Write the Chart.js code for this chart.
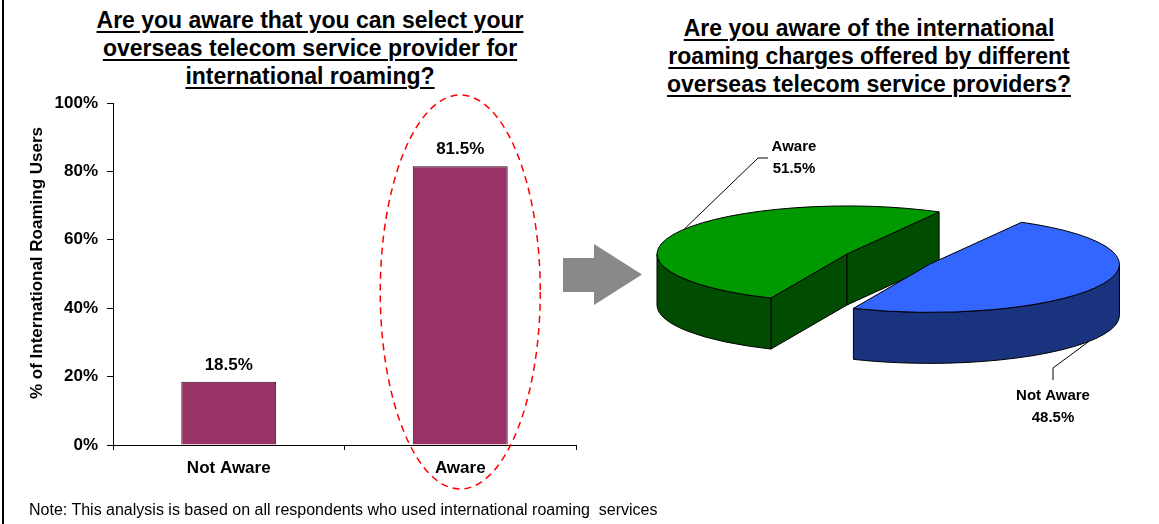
<!DOCTYPE html>
<html>
<head>
<meta charset="utf-8">
<script src="https://cdn.jsdelivr.net/npm/chart.js@4.4.1/dist/chart.umd.min.js"></script>
<style>
  html, body { margin: 0; padding: 0; background: #fff; }
  body { width: 1159px; height: 524px; position: relative; overflow: hidden;
         font-family: "Liberation Sans", Arial, sans-serif; color: #000; }
  .frame { position: absolute; left: 2px; top: 0; width: 2px; height: 524px; background: #000; }
  .title { position: absolute; width: 520px; font-weight: bold; font-size: 23px; line-height: 28px;
           text-align: center; text-decoration: underline; text-decoration-thickness: 2px;
           text-underline-offset: 3px; white-space: nowrap; }
  #barTitle { left: 50px; top: 6px; }
  #pieTitle { left: 609px; top: 14px; }
  #yTitle { position: absolute; left: 37px; top: 263px; width: 320px; margin-left: -160px; margin-top: -10px;
            height: 20px; line-height: 20px; text-align: center; font-weight: bold; font-size: 17px;
            transform: rotate(-90deg); white-space: nowrap; }
  .note { position: absolute; left: 29px; top: 502px; font-size: 16px; line-height: 16px; white-space: pre; }
  #barChart { position: absolute; left: 0; top: 0; }
  #pieChart { position: absolute; left: 560px; top: 100px; }
  #arrow { position: absolute; left: 560px; top: 240px; }
</style>
</head>
<body>
<div class="frame"></div>
<div class="title" id="barTitle">Are you aware that you can select your<br>overseas telecom service provider for<br>international roaming?</div>
<div class="title" id="pieTitle">Are you aware of the international<br>roaming charges offered by different<br>overseas telecom service providers?</div>
<canvas id="barChart" width="600" height="524"></canvas>
<div id="yTitle"></div>
<svg id="arrow" width="90" height="70">
  <polygon points="3,18 34,18 34,4 82,34.5 34,65 34,52 3,52" fill="#898989"/>
</svg>
<canvas id="pieChart" width="599" height="340"></canvas>
<div class="note">Note: This analysis is based on all respondents who used international roaming  services</div>

<script>
// survey answers, % of international roaming users
const categories = ['Not Aware', 'Aware'];
const canSelectProvider = [18.5, 81.5];
const knowsRoamingCharges = [48.5, 51.5];
const yTickValues = [0, 20, 40, 60, 80, 100];
const yTitle = '% of International Roaming Users';

document.getElementById('yTitle').textContent = yTitle;

Chart.defaults.font.family = "'Liberation Sans', Arial, sans-serif";
Chart.defaults.color = '#000';

// value labels above the bars
const barValues = {
  id: 'barValues',
  afterDatasetsDraw(chart) {
    const ctx = chart.ctx;
    const meta = chart.getDatasetMeta(0);
    ctx.save();
    ctx.font = "bold 17px 'Liberation Sans', Arial, sans-serif";
    ctx.fillStyle = '#000';
    ctx.textAlign = 'center';
    ctx.textBaseline = 'alphabetic';
    meta.data.forEach((bar, i) => {
      ctx.fillText(chart.data.datasets[0].data[i].toFixed(1) + '%', bar.x, bar.y - 12);
    });
    ctx.restore();
  }
};

// dashed ring around the highlighted bar
const highlight = {
  id: 'highlight',
  afterDraw(chart, args, opts) {
    const bar = chart.getDatasetMeta(0).data[opts.index];
    const ctx = chart.ctx;
    ctx.save();
    ctx.strokeStyle = '#ff0000';
    ctx.lineWidth = 1.5;
    ctx.setLineDash([7, 5]);
    ctx.beginPath();
    ctx.ellipse(bar.x, opts.cy, opts.rx, opts.ry, 0, 0, Math.PI * 2);
    ctx.stroke();
    ctx.restore();
  }
};

new Chart(document.getElementById('barChart'), {
  type: 'bar',
  data: {
    labels: categories,
    datasets: [{
      data: canSelectProvider,
      backgroundColor: '#993366',
      borderColor: '#2a1020',
      borderWidth: 1,
      barPercentage: 0.41,
      categoryPercentage: 1
    }]
  },
  options: {
    responsive: false,
    animation: false,
    events: [],
    layout: { padding: { left: 0, top: 103, right: 24, bottom: 0 } },
    scales: {
      x: {
        afterFit: s => { s.height = 79; },
        grid: { display: true, drawOnChartArea: false, offset: true, tickLength: 5, color: '#000' },
        border: { color: '#000' },
        ticks: { font: { size: 17, weight: 'bold' }, padding: 8 }
      },
      y: {
        min: 0,
        max: 100,
        afterBuildTicks: s => { s.ticks = yTickValues.map(v => ({ value: v })); },
        afterFit: s => { s.width = 113; },
        grid: { drawOnChartArea: false, tickLength: 6, color: '#000' },
        border: { color: '#000' },
        ticks: { font: { size: 17, weight: 'bold' }, padding: 9, callback: v => v + '%' }
      }
    },
    plugins: {
      legend: { display: false },
      tooltip: { enabled: false },
      highlight: { index: 1, cy: 292, rx: 80, ry: 197 }
    }
  },
  plugins: [barValues, highlight]
});

// extruded pie: side walls and squashed tops drawn from the arc elements
const pie3d = {
  id: 'pie3d',
  beforeDatasetsDraw(chart, args, opts) {
    const ctx = chart.ctx;
    const t = opts.tilt, depth = opts.depth;
    const slices = chart.getDatasetMeta(0).data.map((arc, i) => {
      const p = arc.getProps(['x', 'y', 'startAngle', 'endAngle', 'outerRadius']);
      const mid = (p.startAngle + p.endAngle) / 2;
      const d = opts.explode[i] || 0;
      return { arc, i, p, r: p.outerRadius, s: p.startAngle, e: p.endAngle,
               cx: p.x + Math.cos(mid) * d, cy: p.y + Math.sin(mid) * d * t };
    });
    slices.sort((a, b) => a.cy - b.cy);
    ctx.save();
    ctx.lineWidth = 1;
    ctx.lineJoin = 'round';
    ctx.strokeStyle = opts.edgeColor;
    slices.forEach(sl => {
      ctx.fillStyle = opts.sideColors[sl.i];
      // cut faces that turn towards the viewer
      [[sl.s, Math.cos(sl.s) < 0], [sl.e, Math.cos(sl.e) > 0]].forEach(([a, show]) => {
        if (!show) return;
        const x = sl.cx + sl.r * Math.cos(a), y = sl.cy + sl.r * t * Math.sin(a);
        ctx.beginPath();
        ctx.moveTo(sl.cx, sl.cy);
        ctx.lineTo(x, y);
        ctx.lineTo(x, y + depth);
        ctx.lineTo(sl.cx, sl.cy + depth);
        ctx.closePath();
        ctx.fill();
        ctx.stroke();
      });
      // front part of the rim
      for (let k = -1; k <= 2; k++) {
        const lo = Math.max(sl.s, 2 * Math.PI * k);
        const hi = Math.min(sl.e, 2 * Math.PI * k + Math.PI);
        if (hi <= lo) continue;
        ctx.beginPath();
        ctx.ellipse(sl.cx, sl.cy, sl.r, sl.r * t, 0, lo, hi);
        ctx.ellipse(sl.cx, sl.cy + depth, sl.r, sl.r * t, 0, hi, lo, true);
        ctx.closePath();
        ctx.fill();
        ctx.stroke();
      }
      // top face
      ctx.save();
      ctx.translate(sl.cx, sl.cy);
      ctx.scale(1, t);
      ctx.translate(-sl.p.x, -sl.p.y);
      sl.arc.draw(ctx);
      ctx.beginPath();
      ctx.moveTo(sl.p.x, sl.p.y);
      ctx.arc(sl.p.x, sl.p.y, sl.r, sl.s, sl.e);
      ctx.closePath();
      ctx.restore();
      ctx.stroke();
    });
    ctx.restore();
    chart.$slices = slices;
    return false;
  },
  afterDraw(chart, args, opts) {
    const ctx = chart.ctx;
    const t = opts.tilt;
    const slices = chart.$slices || [];
    ctx.save();
    ctx.strokeStyle = '#000';
    ctx.lineWidth = 1;
    ctx.fillStyle = '#000';
    ctx.font = "bold 15px 'Liberation Sans', Arial, sans-serif";
    ctx.textAlign = 'center';
    ctx.textBaseline = 'middle';
    slices.forEach(sl => {
      const c = opts.callouts[sl.i];
      const a = c.angle * Math.PI / 180;
      const ax = sl.cx + sl.r * Math.cos(a);
      const ay = sl.cy + sl.r * t * Math.sin(a) + (c.onBottom ? opts.depth : 0);
      ctx.beginPath();
      ctx.moveTo(ax, ay);
      ctx.lineTo(c.elbow[0], c.elbow[1]);
      ctx.lineTo(c.end[0], c.end[1]);
      ctx.stroke();
      ctx.fillText(chart.data.labels[sl.i], c.text[0], c.text[1]);
      ctx.fillText(chart.data.datasets[0].data[sl.i].toFixed(1) + '%', c.text[0], c.text[1] + 22);
    });
    ctx.restore();
  }
};

new Chart(document.getElementById('pieChart'), {
  type: 'pie',
  data: {
    labels: categories,
    datasets: [{
      data: knowsRoamingCharges,
      backgroundColor: ['#3366ff', '#009900'],
      borderWidth: 0,
      radius: 190
    }]
  },
  options: {
    responsive: false,
    animation: false,
    events: [],
    rotation: 29,
    layout: { padding: { left: 0, top: 0, right: 25, bottom: 32 } },
    plugins: {
      legend: { display: false },
      tooltip: { enabled: false },
      pie3d: {
        tilt: 0.253,
        depth: 51,
        explode: [92, 0],
        edgeColor: '#000',
        sideColors: ['#1a337f', '#004c00'],
        callouts: [
          { angle: 33, onBottom: true, elbow: [493, 268], end: [493, 280], text: [493, 296] },
          { angle: 211, onBottom: false, elbow: [198, 58], end: [208, 58], text: [234, 47] }
        ]
      }
    }
  },
  plugins: [pie3d]
});
</script>
</body>
</html>
